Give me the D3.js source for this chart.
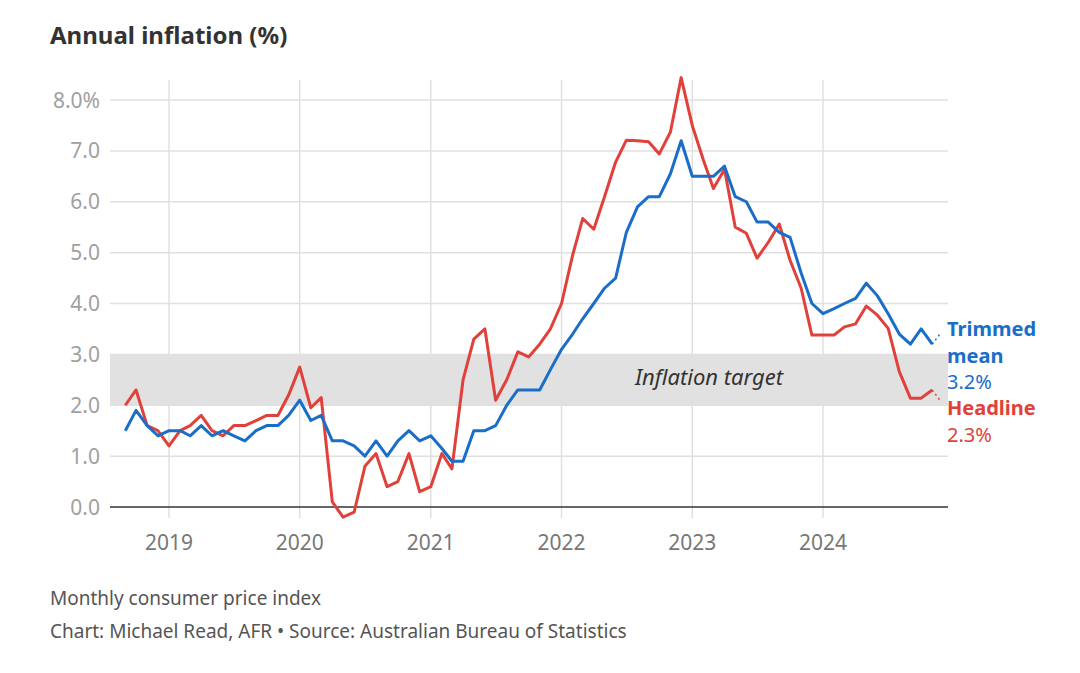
<!DOCTYPE html>
<html>
<head>
<meta charset="utf-8">
<script src="https://cdn.jsdelivr.net/npm/d3@7"></script>
<style>
  body { margin: 0; background: #fff; }
  svg text { font-family: "Noto Sans", "Open Sans", sans-serif; }
</style>
</head>
<body>
<div id="chart"></div>
<script>
// monthly, Sep 2018 .. Nov 2024
const startMonth = new Date(2018, 8, 1);
const headline = [
  2.0, 2.3, 1.6, 1.5,
  1.2, 1.5, 1.6, 1.8, 1.5, 1.4, 1.6, 1.6, 1.7, 1.8, 1.8, 2.2,
  2.75, 1.95, 2.15, 0.1, -0.2, -0.1, 0.8, 1.05, 0.4, 0.5, 1.05, 0.3,
  0.4, 1.05, 0.75, 2.5, 3.3, 3.5, 2.1, 2.5, 3.05, 2.95, 3.2, 3.5,
  4.0, 4.95, 5.67, 5.46, 6.1, 6.78, 7.21, 7.2, 7.18, 6.94, 7.37, 8.44,
  7.5, 6.82, 6.26, 6.64, 5.5, 5.38, 4.89, 5.2, 5.56, 4.85, 4.3, 3.38,
  3.38, 3.38, 3.54, 3.6, 3.95, 3.77, 3.51, 2.66, 2.14, 2.14, 2.3
];
const trimmed = [
  1.5, 1.9, 1.6, 1.4,
  1.5, 1.5, 1.4, 1.6, 1.4, 1.5, 1.4, 1.3, 1.5, 1.6, 1.6, 1.8,
  2.1, 1.7, 1.8, 1.3, 1.3, 1.2, 1.0, 1.3, 1.0, 1.3, 1.5, 1.3,
  1.4, 1.15, 0.9, 0.9, 1.5, 1.5, 1.6, 2.0, 2.3, 2.3, 2.3, 2.7,
  3.1, 3.4, 3.7, 4.0, 4.3, 4.5, 5.4, 5.9, 6.1, 6.1, 6.55, 7.2,
  6.5, 6.5, 6.5, 6.7, 6.1, 6.0, 5.6, 5.6, 5.4, 5.3, 4.6, 4.0,
  3.8, 3.9, 4.0, 4.1, 4.4, 4.15, 3.8, 3.4, 3.2, 3.5, 3.2
];
const yTicks = [0, 1, 2, 3, 4, 5, 6, 7, 8];
const xYears = [2019, 2020, 2021, 2022, 2023, 2024];
const target = [2, 3];
const seriesNames = ["Trimmed mean", "Headline"];
const seriesColors = ["#1a6ec8", "#e0413b"];

const width = 1080, height = 673;
const m = { left: 110, right: 948, top: 100, bottom: 507 };

const toSeries = arr => arr.map((v, i) => ({ date: d3.timeMonth.offset(startMonth, i), value: v }));
const series = [toSeries(trimmed), toSeries(headline)];

const x = d3.scaleTime()
  .domain([new Date(2019, 0, 1), new Date(2024, 0, 1)])
  .range([169, 823]);
const y = d3.scaleLinear().domain([0, 8]).range([m.bottom, m.top]);

const svg = d3.select('#chart').append('svg')
  .attr('width', width).attr('height', height);

// title
svg.append('text')
  .attr('x', 50).attr('y', 44)
  .attr('font-size', 24).attr('font-weight', 700).attr('fill', '#333')
  .text('Annual inflation (%)');

// inflation target band
svg.append('rect')
  .attr('x', m.left).attr('width', m.right - m.left)
  .attr('y', y(target[1])).attr('height', y(target[0]) - y(target[1]))
  .attr('fill', '#e1e1e1');

// horizontal grid
svg.selectAll('.hgrid').data(yTicks.filter(d => d > 0)).enter()
  .append('line')
  .attr('x1', m.left).attr('x2', m.right)
  .attr('y1', d => y(d)).attr('y2', d => y(d))
  .attr('stroke', '#e0e0e0').attr('stroke-width', 1.5);

// vertical grid
svg.selectAll('.vgrid').data(xYears).enter()
  .append('line')
  .attr('x1', d => x(new Date(d, 0, 1))).attr('x2', d => x(new Date(d, 0, 1)))
  .attr('y1', 80).attr('y2', 518)
  .attr('stroke', '#e0e0e0').attr('stroke-width', 1.5);

svg.append('text')
  .attr('x', 709).attr('y', 385)
  .attr('text-anchor', 'middle')
  .attr('font-size', 22).attr('font-style', 'italic').attr('fill', '#333')
  .text('Inflation target');

// baseline
svg.append('line')
  .attr('x1', m.left).attr('x2', m.right)
  .attr('y1', y(0)).attr('y2', y(0))
  .attr('stroke', '#333').attr('stroke-width', 1.5);

// y labels
svg.selectAll('.ylab').data(yTicks).enter()
  .append('text')
  .attr('x', 100).attr('y', d => y(d) + 7.5)
  .attr('text-anchor', 'end')
  .attr('font-size', 21).attr('fill', '#a0a0a0')
  .text(d => d3.format('.1f')(d) + (d === 8 ? '%' : ''));

// x labels
svg.selectAll('.xlab').data(xYears).enter()
  .append('text')
  .attr('x', d => x(new Date(d, 0, 1))).attr('y', 550)
  .attr('text-anchor', 'middle')
  .attr('font-size', 21).attr('fill', '#777')
  .text(d => d);

const line = d3.line()
  .x(d => x(d.date))
  .y(d => y(d.value));

// headline under, trimmed on top
[1, 0].forEach(i => {
  svg.append('path')
    .datum(series[i])
    .attr('d', line)
    .attr('fill', 'none')
    .attr('stroke', seriesColors[i])
    .attr('stroke-width', 3)
    .attr('stroke-linejoin', 'round');

  // dotted leader to the label
  const last = series[i][series[i].length - 1];
  const lx = x(last.date), ly = y(last.value);
  svg.append('line')
    .attr('x1', lx).attr('y1', ly)
    .attr('x2', lx + 9).attr('y2', ly + (i === 0 ? -12 : 12))
    .attr('stroke', seriesColors[i]).attr('stroke-width', 1.5)
    .attr('stroke-dasharray', '2,3');
});

// end labels
const labels = [
  { lines: ['Trimmed', 'mean'], value: trimmed[trimmed.length - 1], y0: 336, c: seriesColors[0] },
  { lines: ['Headline'], value: headline[headline.length - 1], y0: 415, c: seriesColors[1] }
];
labels.forEach(l => {
  const t = svg.append('text').attr('x', 947).attr('y', l.y0)
    .attr('font-size', 20).attr('fill', l.c);
  l.lines.forEach((s, k) => {
    t.append('tspan').attr('x', 947).attr('dy', k === 0 ? 0 : 26.5)
      .attr('font-weight', 700).text(s);
  });
  t.append('tspan').attr('x', 947).attr('dy', 26.5)
    .text(d3.format('.1f')(l.value) + '%');
});

// footer
svg.append('text')
  .attr('x', 50).attr('y', 605)
  .attr('font-size', 19).attr('fill', '#555')
  .text('Monthly consumer price index');
svg.append('text')
  .attr('x', 50).attr('y', 638)
  .attr('font-size', 19).attr('fill', '#555')
  .text('Chart: Michael Read, AFR \u2022 Source: Australian Bureau of Statistics');
</script>
</body>
</html>
